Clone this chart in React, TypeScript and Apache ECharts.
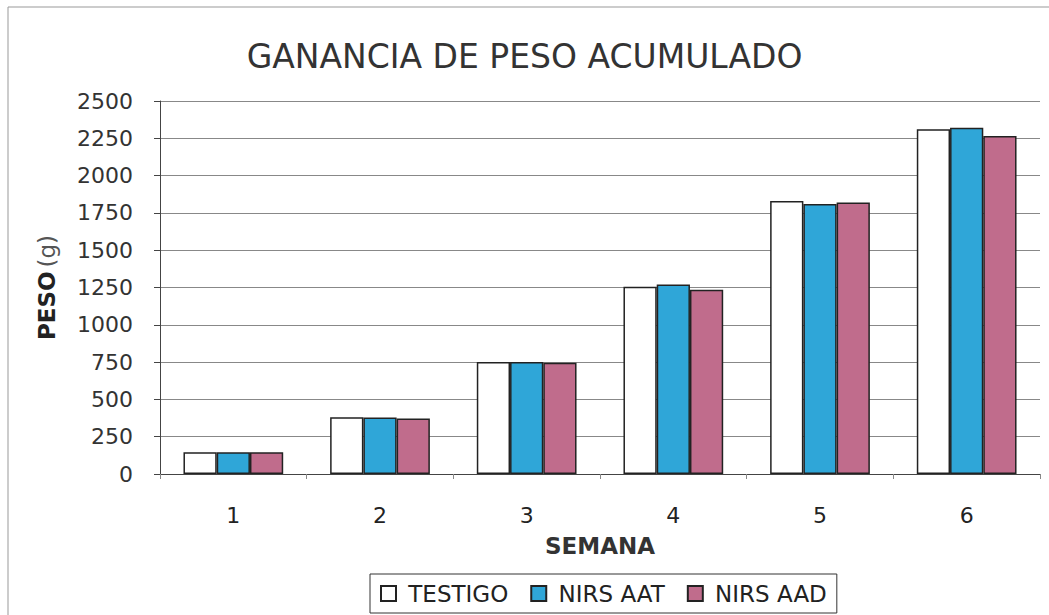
import React, { useEffect, useRef } from "react";
import * as echarts from "echarts";

const weeks = ["1", "2", "3", "4", "5", "6"];
const testigo = [145, 380, 750, 1255, 1830, 2310];
const nirsAAT = [145, 378, 750, 1270, 1810, 2320];
const nirsAAD = [145, 372, 745, 1235, 1820, 2265];
const seriesNames = ["TESTIGO", "NIRS AAT", "NIRS AAD"];
const colors = ["#ffffff", "#2fa6d8", "#c06c8c"];

export default function App() {
  const ref = useRef<HTMLDivElement>(null);
  useEffect(() => {
    const chart = echarts.init(ref.current!, null, { renderer: "svg" });
    const font = "DejaVu Sans, Verdana, sans-serif";
    const data = [testigo, nirsAAT, nirsAAD];
    chart.setOption({
      animation: false,
      textStyle: { fontFamily: font },
      title: {
        text: "GANANCIA DE PESO ACUMULADO",
        left: "center",
        top: 35,
        textStyle: { fontSize: 33, fontWeight: "normal", color: "#333", fontFamily: font },
      },
      graphic: [
        {
          type: "rect",
          shape: { x: 8, y: 7, width: 1045, height: 620 },
          style: { fill: "none", stroke: "#999", lineWidth: 1 },
          silent: true,
        },
      ],
      legend: {
        data: seriesNames,
        bottom: 2,
        left: 370,
        itemWidth: 15,
        itemHeight: 15,
        itemGap: 22,
        icon: "rect",
        borderColor: "#333",
        borderWidth: 1,
        padding: [8, 10, 8, 10],
        formatter: (n: string) => " " + n,
        textStyle: { fontSize: 23, color: "#222", fontFamily: font },
      },
      grid: { left: 160, right: 9, top: 101, bottom: 141 },
      xAxis: {
        type: "category",
        data: weeks,
        name: "SEMANA",
        nameLocation: "middle",
        nameGap: 60,
        nameTextStyle: { fontSize: 23, fontWeight: "bold", color: "#333", fontFamily: font },
        axisLine: { lineStyle: { color: "#444", width: 1 } },
        axisTick: { show: true, length: 5, lineStyle: { color: "#888" } },
        axisLabel: { fontSize: 22, color: "#222", margin: 30 },
      },
      yAxis: {
        type: "value",
        min: 0,
        max: 2500,
        interval: 250,
        name: "{b|PESO} {n|(g)}",
        nameLocation: "middle",
        nameGap: 102,
        nameTextStyle: {
          rich: {
            b: { fontSize: 23, fontWeight: "bold", color: "#222", fontFamily: font },
            n: { fontSize: 23, color: "#555", fontFamily: font },
          },
        },
        axisLine: { show: true, lineStyle: { color: "#444", width: 1 } },
        axisTick: { show: true, length: 6, inside: false, lineStyle: { color: "#444" } },
        axisLabel: { fontSize: 22, color: "#333", margin: 27, formatter: (v: number) => String(v) },
        splitLine: { show: true, lineStyle: { color: "#888", width: 1 } },
      },
      series: seriesNames.map((name, i) => ({
        name,
        type: "bar",
        data: data[i],
        barGap: "0%",
        barCategoryGap: "32%",
        itemStyle: { color: colors[i], borderColor: "#222", borderWidth: 1.5 },
      })),
    });
    return () => chart.dispose();
  }, []);
  return (
    <div
      ref={ref}
      style={{ position: "fixed", left: 0, top: 0, width: 1049, height: 615, background: "#fff" }}
    />
  );
}
